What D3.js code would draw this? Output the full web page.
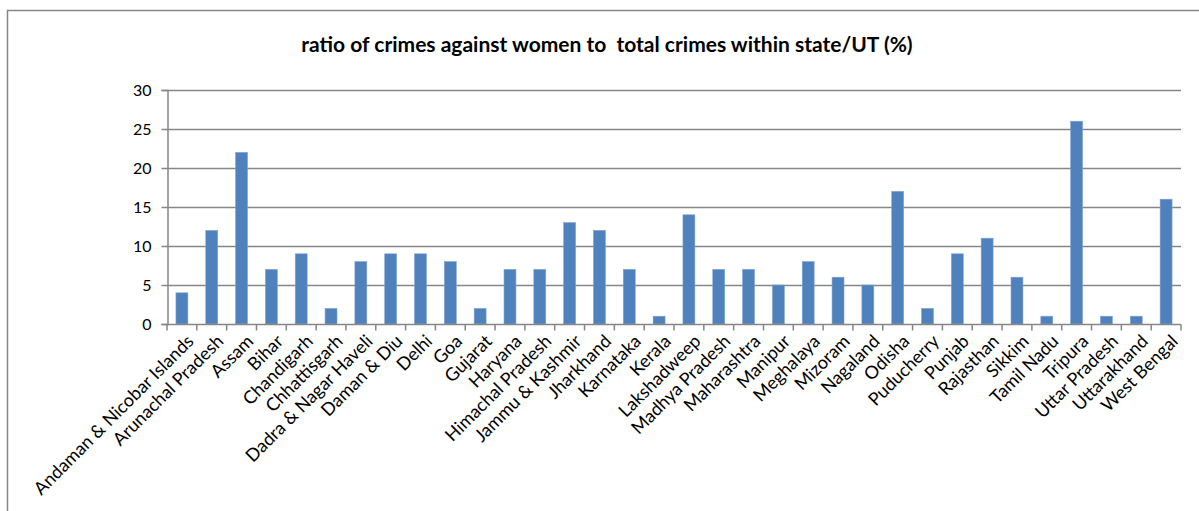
<!DOCTYPE html>
<html><head><meta charset="utf-8">
<script src="https://cdn.jsdelivr.net/npm/d3@7"></script>
<style>body{margin:0;background:#fff;}svg{display:block;}</style>
</head><body><svg id="c" width="1199" height="511"></svg>
<script>
const categories = ["Andaman & Nicobar Islands","Arunachal Pradesh","Assam","Bihar","Chandigarh","Chhattisgarh","Dadra & Nagar Haveli","Daman & Diu","Delhi","Goa","Gujarat","Haryana","Himachal Pradesh","Jammu & Kashmir","Jharkhand","Karnataka","Kerala","Lakshadweep","Madhya Pradesh","Maharashtra","Manipur","Meghalaya","Mizoram","Nagaland","Odisha","Puducherry","Punjab","Rajasthan","Sikkim","Tamil Nadu","Tripura","Uttar Pradesh","Uttarakhand","West Bengal"];
const values = [4,12,22,7,9,2,8,9,9,8,2,7,7,13,12,7,1,14,7,7,5,8,6,5,17,2,9,11,6,1,26,1,1,16];
const yTicks = [0,5,10,15,20,25,30];
const title = "ratio of crimes against women to  total crimes within state/UT (%)";

const svg = d3.select("#c");
const font = "Lato, 'Open Sans', sans-serif";
const gray = "#868686";
const m = {l:167, r:1181, t:90, b:324};

svg.append("rect").attr("x",7.5).attr("y",10.5).attr("width",1250).attr("height",600)
  .attr("fill","#fff").attr("stroke",gray).attr("stroke-width",1.5);

svg.append("text").attr("x",607).attr("y",52).attr("text-anchor","middle")
  .attr("font-family",font).attr("font-weight","bold").attr("font-size",21)
  .attr("fill","#000").style("white-space","pre").text(title);

const x = d3.scaleBand().domain(categories).range([m.l,m.r]).paddingInner(0.6).paddingOuter(0.3);
const y = d3.scaleLinear().domain([0,30]).range([m.b,m.t]);

// gridlines
svg.append("g").selectAll("line").data(yTicks.filter(d=>d>0)).join("line")
  .attr("x1",m.l).attr("x2",m.r).attr("y1",d=>y(d)+0.5).attr("y2",d=>y(d)+0.5)
  .attr("stroke",gray).attr("stroke-width",1.3);

// bars
svg.append("g").selectAll("rect").data(values).join("rect")
  .attr("x",(d,i)=>x(categories[i])).attr("width",x.bandwidth())
  .attr("y",d=>y(d)).attr("height",d=>y(0)-y(d))
  .attr("fill","#4F81BD").attr("stroke","#7fa3d2").attr("stroke-width",0.6);

// y axis
const ya = svg.append("g").attr("transform",`translate(${m.l+0.5},0)`)
  .call(d3.axisLeft(y).tickValues(yTicks).tickSize(6).tickPadding(10));
ya.selectAll("path,line").attr("stroke",gray).attr("stroke-width",1.5);
ya.selectAll("text").attr("font-family",font).attr("font-size",16).attr("fill","#000");

// x axis
const step = x.step();
const xa = svg.append("g").attr("transform",`translate(0,${m.b+0.5})`);
xa.append("line").attr("x1",m.l).attr("x2",m.r).attr("stroke",gray).attr("stroke-width",1.5);
xa.selectAll("line.t").data(d3.range(categories.length+1)).join("line").attr("class","t")
  .attr("x1",i=>m.l+i*step).attr("x2",i=>m.l+i*step).attr("y1",0).attr("y2",6)
  .attr("stroke",gray).attr("stroke-width",1.5);
xa.selectAll("text").data(categories).join("text")
  .attr("transform",d=>`translate(${x(d)+x.bandwidth()/2+4},9) rotate(-45)`)
  .attr("text-anchor","end").attr("dy","0.7em")
  .attr("font-family",font).attr("font-size",18).attr("fill","#000").text(d=>d);
</script></body></html>
